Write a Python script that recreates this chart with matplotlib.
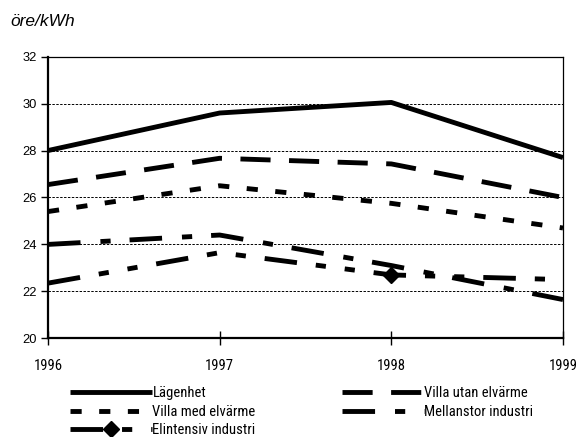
import matplotlib
matplotlib.use("Agg")
import matplotlib.pyplot as plt
from matplotlib import font_manager

years = [1996, 1997, 1998, 1999]
lagenhet = [28.0, 29.6, 30.05, 27.7]
villa_utan = [26.55, 27.67, 27.43, 26.0]
villa_med = [25.4, 26.5, 25.75, 24.7]
mellanstor = [24.0, 24.4, 23.1, 21.65]
elintensiv = [22.35, 23.65, 22.7, 22.5]
yticks = [20, 22, 24, 26, 28, 30, 32]
ylabel = "öre/kWh"

names = {f.name for f in font_manager.fontManager.ttflist}
narrow = "DejaVu Sans"
for cand in ["Liberation Sans Narrow", "Arial Narrow", "Roboto Condensed",
             "Open Sans Condensed", "DejaVu Sans Condensed", "Noto Sans Condensed"]:
    if cand in names:
        narrow = cand
        break
regular = "Liberation Sans" if "Liberation Sans" in names else "DejaVu Sans"
plt.rcParams['font.family'] = [regular, 'DejaVu Sans']

fig = plt.figure(figsize=(5.77, 4.37), dpi=100)
ax = fig.add_axes([0.0832, 0.2259, 0.8925, 0.6444])

lw = 3.5
common = dict(color='black', linewidth=lw, dash_capstyle='butt', solid_capstyle='butt')
h1, = ax.plot(years, lagenhet, linestyle='-', label='Lägenhet', **common)
h2, = ax.plot(years, villa_utan, linestyle=(0, (6.2, 3.8)), label='Villa utan elvärme', **common)
h3, = ax.plot(years, villa_med, linestyle=(0, (2.3, 3.6)), label='Villa med elvärme', **common)
h4, = ax.plot(years, mellanstor, linestyle=(0, (6.7, 4.1, 2.1, 3.9)), label='Mellanstor industri', **common)
h5, = ax.plot(years, elintensiv, linestyle=(0, (6.7, 3.9, 2.1, 3.9, 2.1, 3.9)),
              marker='D', markersize=8.5, markevery=[2], markerfacecolor='black',
              markeredgecolor='black', label='Elintensiv industri', **common)

ax.set_xlim(1996, 1999)
ax.set_ylim(20, 32)
ax.set_yticks(yticks)
ax.set_xticks(years)
ax.yaxis.grid(True, color='black', linestyle=(0, (2.5, 1.5)), linewidth=0.7)
ax.set_axisbelow(True)

for s in ['left', 'bottom']:
    ax.spines[s].set_linewidth(1.6)
for s in ['top', 'right']:
    ax.spines[s].set_linewidth(0.9)

ax.tick_params(axis='y', direction='out', length=5, width=1.0, labelsize=9.3, pad=3)
ax.tick_params(axis='x', direction='inout', length=10, width=1.0, labelsize=10.5, pad=10)
for lab in ax.get_xticklabels():
    lab.set_fontfamily([narrow, 'DejaVu Sans'])

fig.text(10/577, 1 - 22/437, ylabel, fontsize=12.5, fontstyle='italic', va='center', ha='left')

leg_kw = dict(frameon=False, borderpad=0, borderaxespad=0, handlelength=5.6,
              handletextpad=0.05, labelspacing=0.32,
              prop={'family': [narrow, 'DejaVu Sans'], 'size': 10.5})
leg1 = fig.legend([h1, h3, h5], ['Lägenhet', 'Villa med elvärme', 'Elintensiv industri'],
                  loc='upper left', bbox_to_anchor=(70/577, 1 - 386/437), **leg_kw)
leg2 = fig.legend([h2, h4], ['Villa utan elvärme', 'Mellanstor industri'],
                  loc='upper left', bbox_to_anchor=(342/577, 1 - 386/437), **leg_kw)

fig.savefig("out.png", dpi=100)
